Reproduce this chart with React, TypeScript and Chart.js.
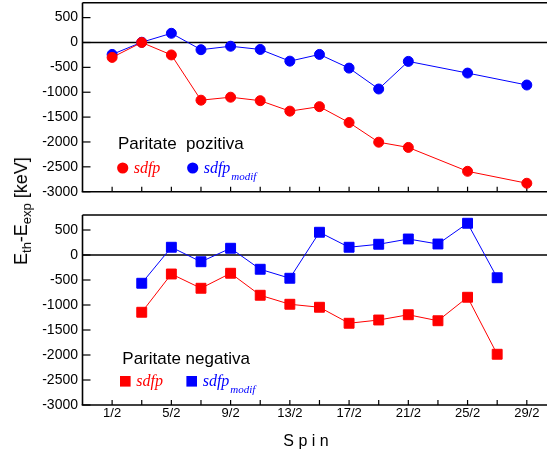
import React, { useEffect, useRef } from "react";
import { Chart, registerables } from "chart.js";

Chart.register(...registerables);

// ---------- data ----------
const spins = ["1/2", "3/2", "5/2", "7/2", "9/2", "11/2", "13/2", "15/2", "17/2", "19/2", "21/2", "23/2", "25/2", "27/2", "29/2"];
const xTickLabels = ["1/2", "5/2", "9/2", "13/2", "17/2", "21/2", "25/2", "29/2"];
const yTicks = [500, 0, -500, -1000, -1500, -2000, -2500, -3000];

// Paritate pozitiva (circles)
const posSdfp = [-300, 0, -250, -1160, -1100, -1170, -1380, -1290, -1610, -2005, -2110, null, -2590, null, -2830];
const posSdfpModif = [-240, 5, 185, -145, -75, -140, -375, -240, -515, -935, -380, null, -615, null, -855];
// Paritate negativa (squares)
const negSdfp = [null, -1145, -380, -665, -365, -805, -985, -1045, -1365, -1300, -1195, -1315, -845, -1985, null];
const negSdfpModif = [null, -565, 155, -135, 135, -285, -465, 455, 155, 215, 320, 220, 635, -455, null];

const RED = "#ff0000";
const BLUE = "#0000ff";
const SANS = "'Liberation Sans', Arial, sans-serif";
const SERIF = "'Liberation Serif', 'Times New Roman', serif";

const spinValue = (s: string) => {
  const [n, d] = s.split("/");
  return Number(n) / Number(d);
};

const toPoints = (vals: (number | null)[]) =>
  spins
    .map((s, i) => ({ x: spinValue(s), y: vals[i] }))
    .filter((p) => p.y !== null) as { x: number; y: number }[];

function makeDataset(vals: (number | null)[], color: string, style: string, radius: number) {
  return {
    data: toPoints(vals),
    borderColor: color,
    backgroundColor: color,
    borderWidth: 1,
    pointRadius: radius,
    pointHoverRadius: radius,
    pointBorderWidth: 1,
    pointStyle: style,
    tension: 0,
    fill: false,
  };
}

function line(ctx: CanvasRenderingContext2D, x1: number, y1: number, x2: number, y2: number) {
  ctx.beginPath();
  ctx.moveTo(x1, y1);
  ctx.lineTo(x2, y2);
  ctx.stroke();
}

function framePlugin(drawExtra: (ctx: CanvasRenderingContext2D) => void) {
  return {
    id: "frame",
    beforeDatasetsDraw(chart: any) {
      const { ctx, chartArea: a, scales } = chart;
      const x = scales.x;
      const y = scales.y;
      ctx.save();
      ctx.strokeStyle = "#000";
      ctx.lineWidth = 1.6;
      const y0 = y.getPixelForValue(0);
      line(ctx, a.left, y0, a.right, y0);
      line(ctx, a.left, a.top, a.right, a.top);
      line(ctx, a.left, a.top, a.left, a.bottom);
      line(ctx, a.left - 0.8, a.bottom, a.right, a.bottom);
      ctx.lineWidth = 1.2;
      yTicks.forEach((v) => {
        const py = y.getPixelForValue(v);
        line(ctx, a.left, py, a.left + 8, py);
      });
      spins.forEach((s) => {
        const px = x.getPixelForValue(spinValue(s));
        line(ctx, px, a.bottom, px, a.bottom - 5);
      });
      ctx.restore();
    },
    afterDraw(chart: any) {
      const { ctx } = chart;
      ctx.save();
      drawExtra(ctx);
      ctx.restore();
    },
  };
}

function legendEntries(ctx: CanvasRenderingContext2D, cy: number, baseline: number, square: boolean, redX: number, blueX: number) {
  const drawMarker = (cx: number, color: string) => {
    ctx.fillStyle = color;
    if (square) {
      ctx.fillRect(cx - 5.3, cy - 5.3, 10.6, 10.6);
    } else {
      ctx.beginPath();
      ctx.arc(cx, cy, 5.6, 0, Math.PI * 2);
      ctx.fill();
    }
  };
  drawMarker(redX, RED);
  drawMarker(blueX, BLUE);
  ctx.textAlign = "left";
  ctx.textBaseline = "alphabetic";
  ctx.font = `italic 16px ${SERIF}`;
  ctx.fillStyle = RED;
  ctx.fillText("sdfp", redX + 11, baseline);
  ctx.fillStyle = BLUE;
  ctx.fillText("sdfp", blueX + 11, baseline);
  const w = ctx.measureText("sdfp").width;
  ctx.font = `italic 11px ${SERIF}`;
  ctx.fillText("modif", blueX + 11 + w + 1, baseline + 7.5);
}

function scaleOptions(showXLabels: boolean, xHeight: number) {
  return {
    x: {
      type: "linear",
      min: -0.5,
      max: 15.3,
      grid: { display: false, drawTicks: false, tickLength: 0 },
      border: { display: false },
      ticks: {
        display: showXLabels,
        autoSkip: false,
        maxRotation: 0,
        padding: 1,
        color: "#000",
        font: { family: SANS, size: 13 },
        callback: (_v: any, i: number) => xTickLabels[i],
      },
      afterBuildTicks: (s: any) => {
        s.ticks = xTickLabels.map((l) => ({ value: spinValue(l) }));
      },
      afterFit: (s: any) => {
        s.height = xHeight;
        s.paddingLeft = 0;
        s.paddingRight = 0;
      },
    },
    y: {
      type: "linear",
      min: -3000,
      max: 800,
      grid: { display: false, drawTicks: false, tickLength: 0 },
      border: { display: false },
      ticks: {
        padding: 4.5,
        color: "#000",
        font: { family: SANS, size: 14 },
        callback: (v: any) => String(v),
      },
      afterBuildTicks: (s: any) => {
        s.ticks = yTicks.map((v) => ({ value: v }));
      },
      afterFit: (s: any) => {
        s.width = 82.5;
        s.paddingTop = 0;
        s.paddingBottom = 0;
      },
    },
  };
}

export default function App() {
  const topRef = useRef<HTMLCanvasElement>(null);
  const botRef = useRef<HTMLCanvasElement>(null);

  useEffect(() => {
    const top = new Chart(topRef.current as HTMLCanvasElement, {
      type: "line",
      data: {
        datasets: [
          makeDataset(posSdfp, RED, "circle", 5),
          makeDataset(posSdfpModif, BLUE, "circle", 5),
        ] as any,
      },
      options: {
        animation: false,
        responsive: false,
        maintainAspectRatio: false,
        events: [],
        layout: { autoPadding: false, padding: { top: 2.7, right: 1.5, left: 0, bottom: 0 } },
        plugins: { legend: { display: false }, tooltip: { enabled: false } },
        scales: scaleOptions(false, 8.3) as any,
      } as any,
      plugins: [
        framePlugin((ctx) => {
          ctx.fillStyle = "#000";
          ctx.font = `17px ${SANS}`;
          ctx.textAlign = "left";
          ctx.textBaseline = "alphabetic";
          ctx.fillText("Paritate  pozitiva", 118, 149);
          legendEntries(ctx, 168, 172.5, false, 122.7, 192.7);
        }),
      ],
    });

    const bot = new Chart(botRef.current as HTMLCanvasElement, {
      type: "line",
      data: {
        datasets: [
          makeDataset(negSdfp, RED, "rect", 7),
          makeDataset(negSdfpModif, BLUE, "rect", 7),
        ] as any,
      },
      options: {
        animation: false,
        responsive: false,
        maintainAspectRatio: false,
        events: [],
        layout: { autoPadding: false, padding: { top: 15, right: 1.5, left: 0, bottom: 0 } },
        plugins: { legend: { display: false }, tooltip: { enabled: false } },
        scales: scaleOptions(true, 52) as any,
      } as any,
      plugins: [
        framePlugin((ctx) => {
          ctx.fillStyle = "#000";
          ctx.font = `17px ${SANS}`;
          ctx.textAlign = "left";
          ctx.textBaseline = "alphabetic";
          ctx.fillText("Paritate negativa", 122.3, 164);
          legendEntries(ctx, 181.3, 185.7, true, 125.3, 191.7);
          ctx.fillStyle = "#000";
          ctx.font = `16px ${SANS}`;
          ctx.textAlign = "center";
          ctx.fillText("S p i n", 306, 246);
        }),
      ],
    });

    return () => {
      top.destroy();
      bot.destroy();
    };
  }, []);

  return (
    <div
      style={{
        position: "absolute",
        left: 0,
        top: 0,
        width: 547,
        height: 457,
        overflow: "hidden",
        background: "#fff",
      }}
    >
      <canvas
        ref={topRef}
        width={552}
        height={200}
        style={{ position: "absolute", left: 0, top: 0, width: 552, height: 200 }}
      />
      <canvas
        ref={botRef}
        width={552}
        height={257}
        style={{ position: "absolute", left: 0, top: 200, width: 552, height: 257 }}
      />
      <div
        style={{
          position: "absolute",
          left: 21,
          top: 211,
          transform: "translate(-50%, -50%) rotate(-90deg)",
          whiteSpace: "nowrap",
          fontFamily: SANS,
          fontSize: 18,
          color: "#000",
          lineHeight: 1,
        }}
      >
        E<span style={{ fontSize: 13, position: "relative", top: 4 }}>th</span>-E
        <span style={{ fontSize: 13, position: "relative", top: 4 }}>exp</span> [keV]
      </div>
    </div>
  );
}
